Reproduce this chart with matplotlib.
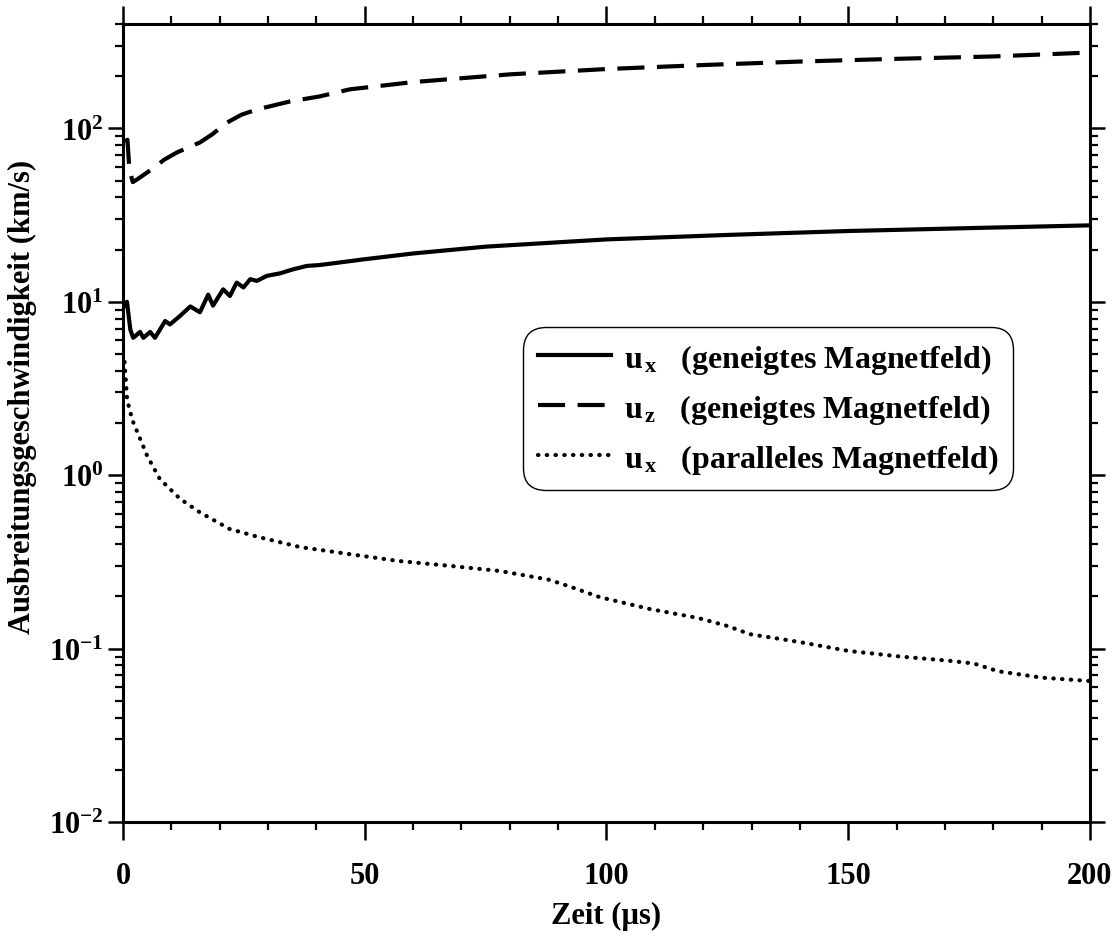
import matplotlib
matplotlib.use("Agg")
import matplotlib.pyplot as plt
from matplotlib.ticker import FixedLocator, LogLocator, NullFormatter, FixedFormatter

plt.rcParams["font.family"] = ["Liberation Serif", "DejaVu Serif"]
plt.rcParams["font.weight"] = "bold"
plt.rcParams["mathtext.fontset"] = "custom"
plt.rcParams["mathtext.rm"] = "Liberation Serif:bold"
plt.rcParams["mathtext.bf"] = "Liberation Serif:bold"
plt.rcParams["mathtext.it"] = "Liberation Serif:bold"

# u_x, inclined magnetic field
t_ux_geneigt = [0.3, 0.8, 1.5, 2.1, 3.5, 4.2, 5.6, 6.6, 8.7, 9.7, 11.8, 13.9, 15.9,
                17.6, 18.6, 20.7, 22.1, 23.5, 24.9, 26.3, 27.7, 29.7, 32.5, 35.2,
                38.0, 40.7, 50, 60, 75, 100, 125, 150, 175, 200]
ux_geneigt = [9.5, 10.0, 6.9, 6.2, 6.7, 6.2, 6.7, 6.2, 7.75, 7.4, 8.3, 9.4, 8.7,
              11.0, 9.5, 11.8, 10.8, 12.9, 12.1, 13.5, 13.2, 14.1, 14.6, 15.4,
              16.1, 16.3, 17.6, 19.0, 20.8, 22.9, 24.3, 25.6, 26.6, 27.6]

# u_z, inclined magnetic field
t_uz_geneigt = [0.4, 0.9, 1.3, 2.0, 2.9, 6.2, 8.5, 11.2, 15.9, 18.4, 21.5, 24.5,
                27.7, 34.5, 40.7, 46.9, 60, 80, 100, 120, 140, 160, 180, 200]
uz_geneigt = [84, 86, 58, 49, 50.8, 58.8, 66, 72.8, 83, 92.3, 108, 120,
              128.6, 143, 153, 168, 185, 205, 220, 232, 243, 252, 260, 274]

# u_x, parallel magnetic field
t_ux_parallel = [0.3, 0.8, 1.3, 2.1, 5.0, 7.6, 11.8, 15.9, 22, 28, 36.6, 47, 57,
                 67.6, 78, 88, 92, 98.6, 109, 119, 125, 129.7, 140, 150, 160.7,
                 171, 176, 181, 190, 200]
ux_parallel = [4.5, 2.8, 2.4, 2.02, 1.29, 0.95, 0.73, 0.61, 0.49, 0.44, 0.385, 0.35,
               0.32, 0.30, 0.28, 0.25, 0.23, 0.198, 0.169, 0.15, 0.135, 0.121,
               0.109, 0.097, 0.09, 0.085, 0.082, 0.074, 0.068, 0.065]

x_ticks = [0, 50, 100, 150, 200]
x_ticklabels = ["0", "50", "100", "150", "200"]
y_ticks = [1e-2, 1e-1, 1e0, 1e1, 1e2]
y_ticklabels = [r"$10^{-2}$", r"$10^{-1}$", r"$10^{0}$", r"$10^{1}$", r"$10^{2}$"]

legend_labels = [r"$u_{\,x}$   (geneigtes Magnetfeld)",
                 r"$u_{\,z}$   (geneigtes Magnetfeld)",
                 r"$u_{\,x}$   (paralleles Magnetfeld)"]

fig = plt.figure(figsize=(11.19, 9.37), dpi=100)
ax = fig.add_axes([0.110, 0.1217, 0.864, 0.8516])

lw = 3.0
ax.plot(t_ux_geneigt, ux_geneigt, color="black", lw=lw, solid_joinstyle="round",
        label=legend_labels[0])
l2, = ax.plot(t_uz_geneigt, uz_geneigt, color="black", lw=lw, label=legend_labels[1])
l2.set_dashes([6.5, 3.0])
ax.plot(t_ux_parallel, ux_parallel, color="black", lw=lw,
        linestyle=(0, (0.1, 2.0)), dash_capstyle="round", label=legend_labels[2])

ax.set_yscale("log")
ax.set_xlim(0, 200)
ax.set_ylim(1e-2, 400)

ax.xaxis.set_major_locator(FixedLocator(x_ticks))
ax.xaxis.set_major_formatter(FixedFormatter(x_ticklabels))
ax.xaxis.set_minor_locator(FixedLocator(list(range(0, 201, 10))))
ax.yaxis.set_major_locator(FixedLocator(y_ticks))
ax.yaxis.set_major_formatter(FixedFormatter(y_ticklabels))
ax.yaxis.set_minor_locator(LogLocator(base=10, subs=range(2, 10)))
ax.yaxis.set_minor_formatter(NullFormatter())

for s in ax.spines.values():
    s.set_linewidth(2.2)

ax.tick_params(axis="x", which="major", direction="out", length=13, width=1.8,
               top=True, bottom=True, labelsize=22, pad=15)
ax.tick_params(axis="x", which="minor", direction="out", length=6, width=1.6,
               top=True, bottom=True)
ax.tick_params(axis="y", which="major", direction="out", length=11, width=1.8,
               left=True, right=True, labelsize=22, pad=3)
ax.tick_params(axis="y", which="minor", direction="out", length=6, width=1.6,
               left=True, right=True)

ax.set_xlabel("Zeit (µs)", fontsize=22, fontweight="bold", labelpad=8)
ax.set_ylabel("Ausbreitungsgeschwindigkeit (km/s)", fontsize=22, fontweight="bold")
ax.yaxis.set_label_coords(-0.089, 0.534)

leg = ax.legend(loc="upper left", bbox_to_anchor=(0.414, 0.620), borderaxespad=0,
                fontsize=23, handlelength=2.3, handletextpad=0.4, labelspacing=0.5,
                borderpad=0.45, fancybox=True, framealpha=1, edgecolor="black")
frame = leg.get_frame()
frame.set_linewidth(1.0)
frame.set_boxstyle("round,pad=0,rounding_size=0.7")

fig.savefig("out.png", dpi=100)
